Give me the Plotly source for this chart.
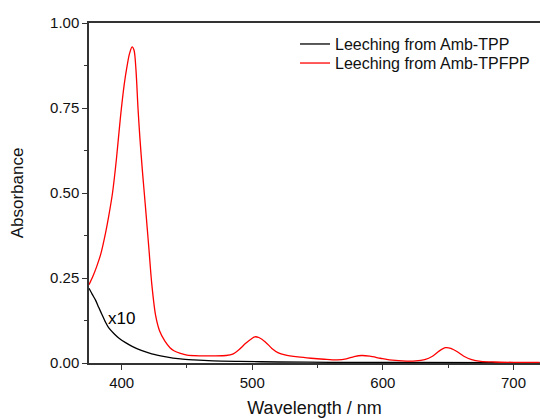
import plotly.graph_objects as go

# Black curve (Leeching from Amb-TPP, shown x10)
wl_tpp = [375, 377.5, 380, 382.5, 385, 387.5, 390, 394, 398, 403, 408, 415, 423, 433,
          445, 455, 470, 490, 520, 560, 620, 720]
abs_tpp = [0.220, 0.202, 0.185, 0.163, 0.142, 0.121, 0.104, 0.087, 0.073, 0.060, 0.049,
           0.037, 0.027, 0.019, 0.012, 0.009, 0.006, 0.0045, 0.003, 0.002, 0.0015, 0.001]

# Red curve (Leeching from Amb-TPFPP)
wl_tpfpp = [375, 378, 381, 384, 387, 390, 393, 396, 399, 402, 404, 406, 408, 409.5,
            411, 412.5, 414, 416, 418, 419.5, 421, 423, 426, 429, 433, 437, 440, 445,
            450, 460, 470, 480, 485, 490, 495, 500, 502, 505, 510, 515, 520, 525, 535,
            545, 555, 565, 572, 578, 584, 590, 598, 605, 615, 625, 632, 638, 643, 648,
            652, 657, 662, 668, 675, 685, 700, 720]
abs_tpfpp = [0.23, 0.255, 0.285, 0.32, 0.37, 0.43, 0.50, 0.60, 0.72, 0.82, 0.87, 0.91,
             0.93, 0.92, 0.86, 0.75, 0.66, 0.56, 0.47, 0.40, 0.33, 0.235, 0.14, 0.095,
             0.065, 0.045, 0.036, 0.028, 0.023, 0.021, 0.021, 0.022, 0.026, 0.040,
             0.058, 0.073, 0.077, 0.075, 0.062, 0.043, 0.030, 0.024, 0.018, 0.014,
             0.011, 0.009, 0.012, 0.019, 0.022, 0.020, 0.014, 0.009, 0.006, 0.006,
             0.010, 0.020, 0.035, 0.045, 0.043, 0.033, 0.020, 0.010, 0.005, 0.003,
             0.002, 0.002]

y_ticks = [0.0, 0.25, 0.5, 0.75, 1.0]
y_ticklabels = ["0.00", "0.25", "0.50", "0.75", "1.00"]
x_ticks = [400, 500, 600, 700]

fig = go.Figure()
fig.add_trace(go.Scatter(x=wl_tpp, y=abs_tpp, mode="lines", line_shape="spline",
                         name="Leeching from Amb-TPP", legend="legend",
                         line=dict(color="black", width=1.3, smoothing=0.8)))
fig.add_trace(go.Scatter(x=wl_tpfpp, y=abs_tpfpp, mode="lines", line_shape="spline",
                         name="Leeching from Amb-TPFPP", legend="legend2",
                         line=dict(color="#ff0000", width=1.3, smoothing=0.8)))

fig.add_annotation(x=400, y=0.132, text="x10", showarrow=False,
                   font=dict(size=17, color="black", family="Arial, Liberation Sans"))

axis_font = dict(family="Arial, Liberation Sans", size=15, color="#111")
legend_common = dict(xanchor="left", yanchor="top", font=dict(size=16, color="#111"),
                     bgcolor="rgba(0,0,0,0)", itemwidth=30)
fig.update_layout(
    width=540, height=419,
    margin=dict(l=89, r=0, t=23, b=56),
    paper_bgcolor="white", plot_bgcolor="white",
    font=dict(family="Arial, Liberation Sans", color="#111"),
    showlegend=True,
    legend=dict(x=0.4568, y=0.988, **legend_common),
    legend2=dict(x=0.4568, y=0.932, **legend_common),
    xaxis=dict(range=[375, 720.3], tickvals=x_ticks, showgrid=False, zeroline=False,
               showline=True, linecolor="#333", linewidth=1.5, mirror=True,
               ticks="outside", ticklen=5, tickwidth=1.2, tickcolor="#333",
               tickfont=axis_font,
               minor=dict(tickvals=[450, 550, 650], ticks="outside", ticklen=3,
                          tickwidth=1.2, tickcolor="#333"),
               title=dict(text="Wavelength / nm", font=dict(size=18, color="#111"),
                          standoff=12)),
    yaxis=dict(range=[0, 1.0], tickvals=y_ticks, ticktext=y_ticklabels,
               showgrid=False, zeroline=False,
               showline=True, linecolor="#333", linewidth=1.5,
               ticks="outside", ticklen=5, tickwidth=1.2, tickcolor="#333",
               tickfont=axis_font,
               minor=dict(tickvals=[0.125, 0.375, 0.625, 0.875], ticks="outside",
                          ticklen=3, tickwidth=1.2, tickcolor="#333"),
               title=dict(text="Absorbance", font=dict(size=17, color="#111"),
                          standoff=22)),
)

fig.write_html("out.html")
